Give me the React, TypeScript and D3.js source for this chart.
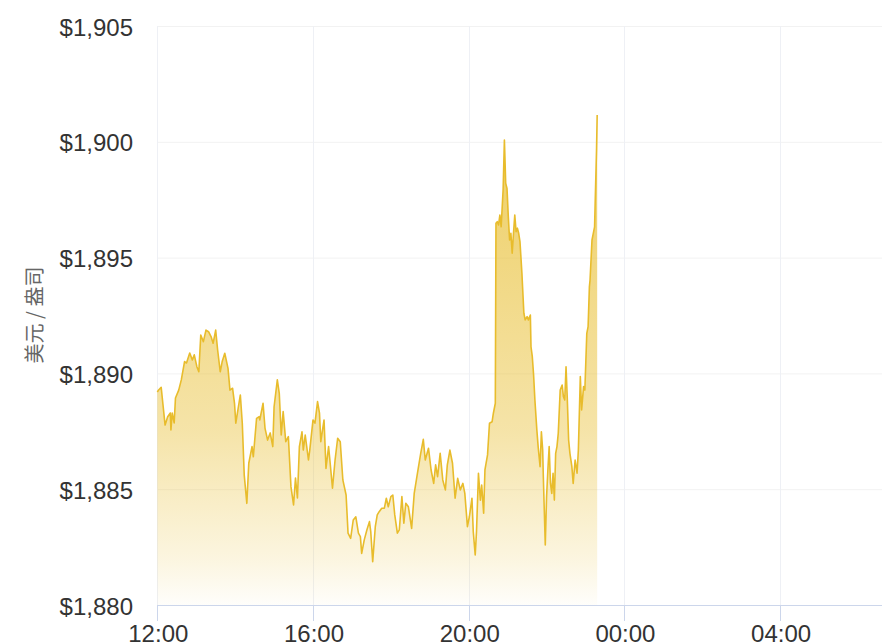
import React from "react";
import * as d3 from "d3";

// minutes after 12:00
const minutes = [
  0, 2, 6, 8, 12, 16, 20, 21, 23, 26, 28, 33, 37, 42, 45, 50, 54, 57, 61, 64,
  67, 71, 75, 79, 83, 86, 90, 93, 97, 100, 104, 109, 112, 116, 119, 121, 125, 128, 131, 134,
  138, 141, 146, 148, 153, 157, 158, 163, 166, 170, 174, 178, 180, 185, 188, 191, 194, 198, 202, 206,
  210, 213, 216, 219, 223, 225, 228, 233, 235, 240, 243, 247, 250, 252, 257, 260, 264, 266, 270, 274,
  278, 282, 286, 291, 294, 298, 302, 306, 310, 313, 315, 319, 323, 327, 329, 332, 336, 339, 342, 346,
  350, 353, 356, 360, 363, 366, 370, 373, 377, 380, 383, 387, 392, 396, 401, 406, 410, 413, 418, 422,
  426, 429, 432, 436, 440, 444, 447, 451, 455, 459, 463, 467, 471, 474, 478, 481, 485, 487, 490, 492,
  495, 498, 500, 503, 505, 509, 512, 516, 518, 521, 522, 524, 526, 528, 530, 533, 535, 537, 539, 541,
  543, 545, 547, 549, 551, 553, 555, 557, 559, 562, 563, 565, 567, 570, 572, 575, 576, 578, 580, 582,
  585, 587, 590, 592, 594, 595, 598, 600, 602, 604, 606, 608, 610, 612, 614, 616, 618, 621, 624, 626,
  628, 630, 632, 634, 636, 639, 641, 644, 647, 649, 652, 654, 657, 659, 662, 664, 666, 667, 670, 672,
  674, 675, 677, 678,
];

const prices = [
  1889.2, 1889.28, 1889.4, 1888.85, 1887.77, 1888.13, 1888.29, 1887.56, 1888.29, 1887.86,
  1888.94, 1889.28, 1889.72, 1890.51, 1890.45, 1890.88, 1890.58, 1890.8, 1890.29, 1890.07,
  1891.66, 1891.37, 1891.87, 1891.8, 1891.58, 1891.3, 1891.87, 1891.01, 1890.07, 1890.51,
  1890.87, 1890.22, 1889.28, 1889.36, 1888.71, 1887.85, 1888.56, 1889.07, 1887.85, 1885.61,
  1884.39, 1886.12, 1886.84, 1886.4, 1888.06, 1888.13, 1887.99, 1888.71, 1887.64, 1887.12,
  1887.43, 1886.84, 1888.56, 1889.72, 1889.14, 1887.34, 1888.35, 1887.05, 1887.27, 1885.11,
  1884.32, 1885.48, 1884.62, 1886.84, 1887.48, 1886.69, 1887.34, 1886.26, 1886.69, 1887.99,
  1887.85, 1888.78, 1888.28, 1887.05, 1887.99, 1885.9, 1886.84, 1886.26, 1885.04, 1886.26,
  1887.2, 1887.05, 1885.4, 1884.75, 1883.1, 1882.88, 1883.67, 1883.81, 1883.1, 1882.95,
  1882.23, 1882.81, 1883.24, 1883.6, 1883.17, 1881.87, 1883.38, 1883.89, 1884.03, 1884.18,
  1884.18, 1884.61, 1884.24, 1884.68, 1884.75, 1883.89, 1883.1, 1883.24, 1884.68, 1883.53,
  1884.39, 1884.24, 1883.31, 1884.82, 1885.69, 1886.55, 1887.15, 1886.26, 1886.77, 1885.83,
  1885.25, 1886.05, 1885.54, 1886.55, 1885.4, 1884.97, 1886.05, 1886.69, 1886.12, 1884.61,
  1885.47, 1884.97, 1885.25, 1884.82, 1883.38, 1883.81, 1884.61, 1883.17, 1882.16, 1883.17,
  1885.69, 1884.53, 1885.18, 1883.96, 1885.83, 1886.48, 1887.85, 1887.91, 1888.28, 1888.71,
  1896.48, 1896.55, 1896.41, 1896.84, 1896.33, 1897.92, 1900.08, 1898.21, 1897.99, 1896.77,
  1895.76, 1896.05, 1895.19, 1896.05, 1896.84, 1896.12, 1896.27, 1896.05, 1895.69, 1894.32,
  1893.74, 1892.6, 1892.31, 1892.45, 1892.31, 1892.52, 1891.15, 1890.72, 1889.93, 1888.85,
  1887.56, 1886.84, 1885.97, 1887.48, 1886.69, 1885.54, 1882.59, 1884.68, 1885.83, 1886.84,
  1885.25, 1884.82, 1885.69, 1884.53, 1886.55, 1886.84, 1887.41, 1889.28, 1889.5, 1888.99,
  1888.85, 1890.29, 1888.85, 1887.12, 1886.55, 1885.97, 1885.25, 1886.26, 1885.69, 1886.69,
  1889.86, 1888.42, 1889.43, 1889.28, 1891.73, 1892.02, 1893.74, 1894.03, 1895.76, 1896.05,
  1896.33, 1897.49, 1899.65, 1901.16,
];

const yTicks = [1880, 1885, 1890, 1895, 1900, 1905];
const yTitle = "美元 / 盎司";
const domainEndMinutes = 1117;

const W = 882;
const H = 643;
const base = Date.UTC(2023, 0, 1, 12, 0);

export default function App() {
  const data = minutes.map((m, i) => ({ t: new Date(base + m * 60000), v: prices[i] }));
  const x = d3
    .scaleUtc()
    .domain([new Date(base), new Date(base + domainEndMinutes * 60000)])
    .range([157.3, 882]);
  const y = d3.scaleLinear().domain([1880, 1905]).range([605, 26]);
  const xTicks = x.ticks(d3.utcHour.every(4)!);
  const fmtX = d3.utcFormat("%H:%M");
  const fmtY = (v: number) => "$" + d3.format(",")(v);

  const line = d3
    .line<{ t: Date; v: number }>()
    .x((d) => x(d.t))
    .y((d) => y(d.v));
  const area = d3
    .area<{ t: Date; v: number }>()
    .x((d) => x(d.t))
    .y0(y(1880))
    .y1((d) => y(d.v));

  const yMax = y(d3.max(prices)!);
  const yMin = y(1880);

  return (
    <svg
      width={W}
      height={H}
      style={{ position: "absolute", left: 0, top: 0, background: "#fff" }}
      fontFamily="'Liberation Sans', Arial, sans-serif"
    >
      <defs>
        <linearGradient id="goldFill" gradientUnits="userSpaceOnUse" x1={0} x2={0} y1={yMax} y2={yMin}>
          <stop offset="0" stopColor="#e8be30" stopOpacity={0.75} />
          <stop offset="0.235" stopColor="#e8be30" stopOpacity={0.64} />
          <stop offset="0.643" stopColor="#e8be30" stopOpacity={0.42} />
          <stop offset="0.908" stopColor="#e8be30" stopOpacity={0.15} />
          <stop offset="1" stopColor="#e8be30" stopOpacity={0.02} />
        </linearGradient>
      </defs>
      {/* horizontal grid */}
      {yTicks.map((t) => (
        <line key={"h" + t} x1={157.3} x2={W} y1={y(t) + 0.5} y2={y(t) + 0.5} stroke="#f2f2f2" strokeWidth={1} />
      ))}
      {/* vertical grid */}
      {xTicks.map((t) => (
        <line
          key={"v" + t.getTime()}
          x1={Math.round(x(t)) + 0.5}
          x2={Math.round(x(t)) + 0.5}
          y1={26}
          y2={605}
          stroke="#eef0f5"
          strokeWidth={1}
        />
      ))}
      <path d={area(data)!} fill="url(#goldFill)" />
      <path d={line(data)!} fill="none" stroke="#e8bc2c" strokeWidth={1.6} strokeLinejoin="round" />
      {/* x axis */}
      <line x1={157.3} x2={W} y1={605.5} y2={605.5} stroke="#ccd6eb" strokeWidth={1} />
      {xTicks.map((t) => (
        <g key={"xt" + t.getTime()}>
          <line
            x1={Math.round(x(t)) + 0.5}
            x2={Math.round(x(t)) + 0.5}
            y1={605}
            y2={621}
            stroke="#ccd6eb"
            strokeWidth={1}
          />
          <text x={x(t) + 1} y={642} textAnchor="middle" fontSize={24} fill="#333">
            {fmtX(t)}
          </text>
        </g>
      ))}
      {/* y labels */}
      {yTicks.map((t) => (
        <text key={"yl" + t} x={133} y={y(t) + 9.5} textAnchor="end" fontSize={24} fill="#333">
          {fmtY(t)}
        </text>
      ))}
      <text
        transform="translate(33,315) rotate(-90)"
        textAnchor="middle"
        dominantBaseline="central"
        fontSize={20}
        fill="#666"
        fontFamily="'Noto Sans CJK SC', sans-serif"
      >
        {yTitle}
      </text>
    </svg>
  );
}
